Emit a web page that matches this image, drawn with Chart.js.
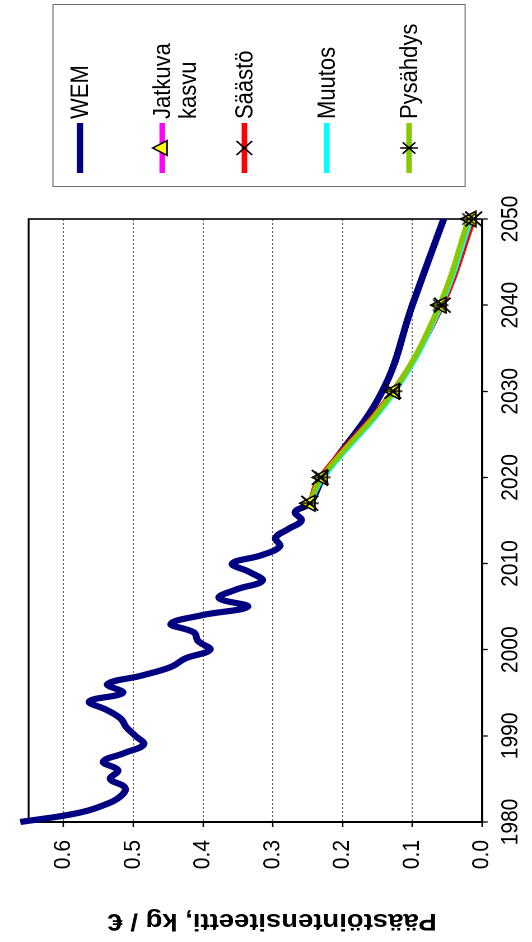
<!DOCTYPE html>
<html>
<head>
<meta charset="utf-8">
<script src="https://cdn.jsdelivr.net/npm/chart.js@4.4.0/dist/chart.umd.min.js"></script>
<style>
  html, body { margin: 0; padding: 0; background: #fff; overflow: hidden; }
  body { width: 532px; height: 942px; position: relative; }
  /* chart is drawn landscape, then turned a quarter to the left like the source picture */
  #wrap {
    position: absolute; left: 0; top: 0;
    width: 942px; height: 475px;
    transform-origin: 0 0;
    transform: translate(0, 942px) rotate(-90deg) scale(1, 1.12);
  }
</style>
</head>
<body>
<div id="wrap"><canvas id="chart" width="942" height="475"></canvas></div>
<script>
// WEM history, yearly
const histYears = [1980, 1981, 1982, 1983, 1984, 1985, 1986, 1987, 1988, 1989,
                   1990, 1991, 1992, 1993, 1994, 1995, 1996, 1997, 1998, 1999,
                   2000, 2001, 2002, 2003, 2004, 2005, 2006, 2007, 2008, 2009,
                   2010, 2011, 2012, 2013, 2014, 2015, 2016, 2017];
const wemHist = [0.662, 0.582, 0.541, 0.518, 0.512, 0.533, 0.522, 0.543, 0.513, 0.485,
                 0.497, 0.510, 0.518, 0.538, 0.563, 0.515, 0.537, 0.488, 0.446, 0.425,
                 0.390, 0.407, 0.413, 0.446, 0.402, 0.336, 0.377, 0.352, 0.315, 0.333,
                 0.358, 0.315, 0.290, 0.296, 0.278, 0.259, 0.268, 0.247];

// WEM projection
const projYears = [2020, 2030, 2040, 2050];
const wemProj = [0.228, 0.143, 0.100, 0.055];

// scenarios
const scenYears = [2017, 2020, 2030, 2040, 2050];
const jatkuvaKasvu = [0.247, 0.229, 0.126, 0.059, 0.016];
const saasto = [0.247, 0.232, 0.128, 0.057, 0.012];
const muutos = [0.247, 0.228, 0.125, 0.059, 0.016];
const pysahdys = [0.247, 0.230, 0.127, 0.061, 0.019];

const xTicks = [1980, 1990, 2000, 2010, 2020, 2030, 2040, 2050];
const yTicks = [0, 0.1, 0.2, 0.3, 0.4, 0.5, 0.6];

const yTitle = 'Päästöintensiteetti, kg / €';
const FONT = '"Liberation Sans", Arial, sans-serif';

function toPoints(xs, ys) {
    return xs.map((x, i) => ({ x: x, y: ys[i] }));
}

const wemData = toPoints(histYears, wemHist).concat(toPoints(projYears, wemProj));

// legend rows (text lines, line colour, width, marker)
const legendItems = [
    { text: ['WEM'], color: '#000080', width: 5.8, marker: null },
    { text: ['Jatkuva', 'kasvu'], color: '#FF00FF', width: 5, marker: 'triangle' },
    { text: ['Säästö'], color: '#FF0000', width: 5, marker: 'crossRot' },
    { text: ['Muutos'], color: '#00FFFF', width: 5, marker: null },
    { text: ['Pysähdys'], color: '#88C800', width: 5, marker: 'star' }
];

function drawMarker(ctx, style, x, y) {
    ctx.save();
    ctx.strokeStyle = '#000';
    ctx.lineWidth = 1.5;
    if (style === 'triangle') {
        const r = 8.5;
        ctx.fillStyle = '#FFFF00';
        ctx.beginPath();
        ctx.moveTo(x, y - r);
        ctx.lineTo(x + r * Math.sin(Math.PI * 2 / 3), y - r * Math.cos(Math.PI * 2 / 3));
        ctx.lineTo(x - r * Math.sin(Math.PI * 2 / 3), y - r * Math.cos(Math.PI * 2 / 3));
        ctx.closePath();
        ctx.fill();
        ctx.stroke();
    } else if (style === 'crossRot') {
        const d = 7;
        ctx.beginPath();
        ctx.moveTo(x - d, y - d); ctx.lineTo(x + d, y + d);
        ctx.moveTo(x + d, y - d); ctx.lineTo(x - d, y + d);
        ctx.stroke();
    } else if (style === 'star') {
        const r = 8, d = r * Math.SQRT1_2;
        ctx.beginPath();
        ctx.moveTo(x, y - r); ctx.lineTo(x, y + r);
        ctx.moveTo(x - d, y - d); ctx.lineTo(x + d, y + d);
        ctx.moveTo(x + d, y - d); ctx.lineTo(x - d, y + d);
        ctx.stroke();
    }
    ctx.restore();
}

// asterisk point image (x plus upright stroke), like the spreadsheet marker
function makeAsterisk(size) {
    const c = document.createElement('canvas');
    c.width = size; c.height = size;
    const g = c.getContext('2d');
    drawMarker(g, 'star', size / 2, size / 2);
    return c;
}
const asterisk = makeAsterisk(20);

const framePlugin = {
    id: 'frame',
    beforeDatasetsDraw(chart) {
        const a = chart.chartArea, ctx = chart.ctx;
        ctx.save();
        ctx.strokeStyle = '#000';
        ctx.lineWidth = 1.6;
        ctx.beginPath();
        ctx.moveTo(a.left, a.top);
        ctx.lineTo(a.right, a.top);
        ctx.lineTo(a.right, a.bottom);
        ctx.stroke();
        ctx.restore();
    },
    afterDraw(chart) {
        const ctx = chart.ctx;
        ctx.save();
        // y axis title
        ctx.translate(21, 243);
        ctx.rotate(-Math.PI / 2);
        ctx.font = 'bold 24.5px ' + FONT;
        ctx.fillStyle = '#000';
        ctx.textAlign = 'center';
        ctx.textBaseline = 'middle';
        ctx.fillText(yTitle, 0, 0);
        ctx.restore();

        // legend box
        ctx.save();
        ctx.strokeStyle = '#707070';
        ctx.lineWidth = 1;
        ctx.strokeRect(755.5, 47.3, 182, 368);
        const rows = [71.4, 144.9, 218.2, 291.7, 365.2];
        legendItems.forEach((item, i) => {
            const y = rows[i];
            ctx.strokeStyle = item.color;
            ctx.lineWidth = item.width;
            ctx.lineCap = 'butt';
            ctx.beginPath();
            ctx.moveTo(769, y);
            ctx.lineTo(819, y);
            ctx.stroke();
            if (item.marker) drawMarker(ctx, item.marker, 794, y);
            ctx.fillStyle = '#000';
            ctx.font = '22px ' + FONT;
            ctx.textAlign = 'left';
            ctx.textBaseline = 'middle';
            item.text.forEach((t, k) => ctx.fillText(t, 823, y + 1 + k * 23));
        });
        ctx.restore();
    }
};

const lineBase = { pointRadius: 0, fill: false, tension: 0.4, borderCapStyle: 'butt' };

new Chart(document.getElementById('chart'), {
    type: 'line',
    data: {
        datasets: [
            Object.assign({ label: 'WEM', data: wemData, borderColor: '#000080', borderWidth: 6.2, clip: false, order: 9 }, lineBase),
            Object.assign({ label: 'Jatkuva kasvu', data: toPoints(scenYears, jatkuvaKasvu), borderColor: '#FF00FF', borderWidth: 5, order: 8 }, lineBase),
            Object.assign({ label: 'Säästö', data: toPoints(scenYears, saasto), borderColor: '#FF0000', borderWidth: 5, order: 7 }, lineBase),
            Object.assign({ label: 'Muutos', data: toPoints(scenYears, muutos), borderColor: '#00FFFF', borderWidth: 5, order: 6 }, lineBase),
            Object.assign({ label: 'Pysähdys', data: toPoints(scenYears, pysahdys), borderColor: '#88C800', borderWidth: 5, order: 5 }, lineBase),
            // markers go on top of every line
            { label: 'm1', data: toPoints(scenYears, jatkuvaKasvu), showLine: false, clip: false, order: 3,
              pointStyle: 'triangle', pointRadius: 9, pointBackgroundColor: '#FFFF00', pointBorderColor: '#000', pointBorderWidth: 1.5 },
            { label: 'm2', data: toPoints(scenYears, saasto), showLine: false, clip: false, order: 2,
              pointStyle: 'crossRot', pointRadius: 10.5, pointBorderColor: '#000', pointBorderWidth: 1.7 },
            { label: 'm3', data: toPoints(scenYears, pysahdys), showLine: false, clip: false, order: 1,
              pointStyle: asterisk, pointRadius: 10 }
        ]
    },
    options: {
        responsive: false,
        animation: false,
        devicePixelRatio: 2,
        layout: { padding: { left: 0, top: 16, right: 219, bottom: 0 } },
        plugins: { legend: { display: false }, tooltip: { enabled: false } },
        scales: {
            x: {
                type: 'linear',
                min: 1980,
                max: 2050,
                afterBuildTicks: s => { s.ticks = xTicks.map(v => ({ value: v })); },
                afterFit: s => { s.height = 44.6; },
                grid: { drawOnChartArea: false, tickLength: 5, tickColor: '#000', tickWidth: 1.3 },
                border: { color: '#000', width: 2 },
                ticks: { color: '#000', font: { family: FONT, size: 21 }, padding: 8, maxRotation: 0, autoSkip: false,
                         callback: v => String(v) }
            },
            y: {
                min: 0,
                max: 0.65,
                afterBuildTicks: s => { s.ticks = yTicks.map(v => ({ value: v })); },
                afterFit: s => { s.width = 120; },
                grid: { color: '#666', lineWidth: 1, tickLength: 5, tickColor: '#000', tickWidth: 1.3 },
                border: { color: '#000', width: 2, dash: [2, 2] },
                ticks: { color: '#000', font: { family: FONT, size: 21 }, padding: 13,
                         callback: v => v.toFixed(1) }
            }
        }
    },
    plugins: [framePlugin]
});
</script>
</body>
</html>
